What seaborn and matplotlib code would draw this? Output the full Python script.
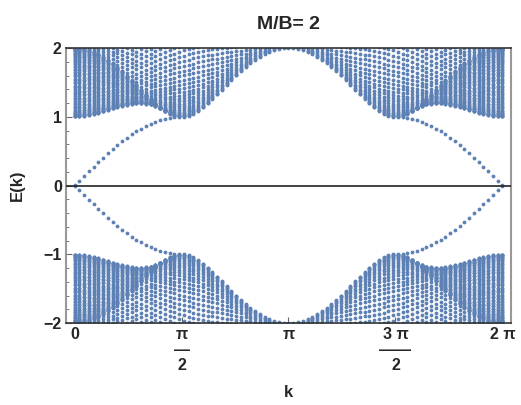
import numpy as np
import pandas as pd
import matplotlib
matplotlib.use("Agg")
import matplotlib.pyplot as plt
import seaborn as sns

# Ribbon model parameters (two-band Chern insulator, open boundaries across the ribbon)
mass_ratio = [2.0]      # M/B
hopping_B = [1.0]
velocity_A = [1.0]
ribbon_sites = [60]
k_intervals = [90]

# Axis ticks
k_ticks = [0.0, np.pi / 2, np.pi, 3 * np.pi / 2, 2 * np.pi]
k_tick_labels = ["0", "π\n—\n2", "π", "3 π\n——\n2", "2 π"]
E_ticks = [-2, -1, 0, 1, 2]
E_tick_labels = ["\u22122", "\u22121", "0", "1", "2"]

point_color = "#5E81B5"


def ribbon_spectrum(k, M, B, A, N):
    sx = np.array([[0, 1], [1, 0]], dtype=complex)
    sy = np.array([[0, -1j], [1j, 0]], dtype=complex)
    sz = np.array([[1, 0], [0, -1]], dtype=complex)
    onsite = A * np.sin(k) * sx + (M - 4 * B + 2 * B * np.cos(k)) * sz
    hop = B * sz + 0.5j * A * sy
    H = (np.kron(np.eye(N), onsite)
         + np.kron(np.eye(N, k=1), hop)
         + np.kron(np.eye(N, k=-1), hop.conj().T))
    return np.linalg.eigvalsh(H)


B = hopping_B[0]
M = mass_ratio[0] * B
A = velocity_A[0]
N = ribbon_sites[0]
ks = np.linspace(0, 2 * np.pi, k_intervals[0] + 1)

rows = []
for k in ks:
    for e in ribbon_spectrum(k, M, B, A, N):
        rows.append((k, e))
df = pd.DataFrame(rows, columns=["k", "E"])

sns.set_theme(style="white")
plt.rcParams["font.family"] = ["Liberation Sans", "DejaVu Sans"]
plt.rcParams["font.weight"] = "bold"

fig = plt.figure(figsize=(5.21, 4.05), dpi=100)
ax = fig.add_axes([66 / 521, 1 - 323 / 405, (511 - 66) / 521, (323 - 48) / 405])

sns.scatterplot(data=df, x="k", y="E", s=7.5, color=point_color,
                linewidth=0, ax=ax, legend=False)

ax.axhline(0, color="#222222", lw=1.2, zorder=3)

pad = 0.02 * 2 * np.pi
ax.set_xlim(-pad, 2 * np.pi + pad)
ax.set_ylim(-2, 2)

ax.set_xticks(k_ticks)
ax.set_xticklabels(k_tick_labels, fontsize=11.5, fontweight="bold",
                   linespacing=1.05)
ax.set_yticks(E_ticks)
ax.set_yticklabels(E_tick_labels, fontsize=11.5, fontweight="bold")
ax.set_yticks(np.arange(-2, 2.01, 0.2), minor=True)

ax.tick_params(axis="both", which="major", direction="in", length=4,
               width=0.8, color="#666666", pad=3)
ax.tick_params(axis="y", which="minor", direction="in", length=2,
               width=0.6, color="#666666", left=True)
ax.tick_params(axis="x", which="major", bottom=True, top=False)
ax.tick_params(axis="y", which="major", left=True, right=False)

for side in ["top", "bottom"]:
    ax.spines[side].set_color("#333333")
    ax.spines[side].set_linewidth(1.2)
for side in ["left", "right"]:
    ax.spines[side].set_color("#999999")
    ax.spines[side].set_linewidth(1.5)

ax.set_title("M/B= 2", fontsize=14, fontweight="bold", pad=14)
ax.set_xlabel("k", fontsize=12, fontweight="bold")
ax.set_ylabel("E(k)", fontsize=12, fontweight="bold")
ax.xaxis.set_label_coords(0.5, -0.225)
ax.yaxis.set_label_coords(-0.092, 0.5)

fig.savefig("out.png", dpi=100)
